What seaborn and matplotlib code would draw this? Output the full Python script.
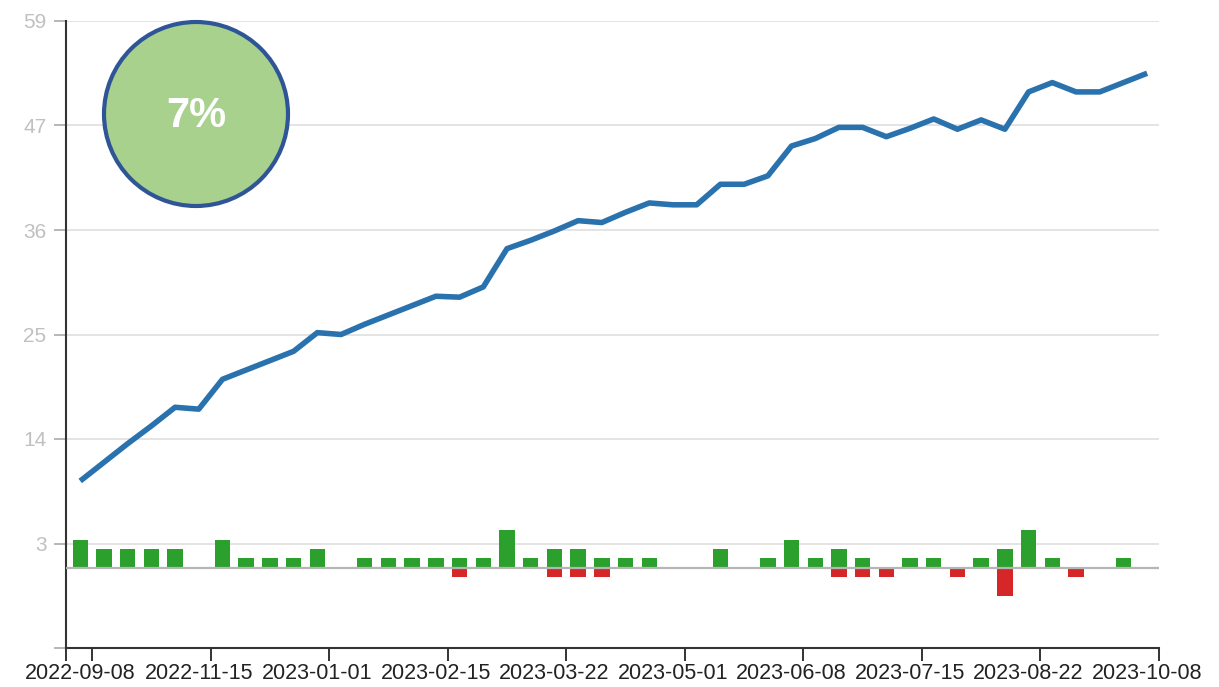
import matplotlib
matplotlib.use("Agg")
import numpy as np
import pandas as pd
import seaborn as sns
import matplotlib.pyplot as plt
from matplotlib.patches import Ellipse

# ---------------- data ----------------
week_no = list(range(46))
gains = [3, 2, 2, 2, 2, 0, 3, 1, 1, 1,
         2, 0, 1, 1, 1, 1, 1, 1, 4, 1,
         2, 2, 1, 1, 1, 0, 0, 2, 0, 1,
         3, 1, 2, 1, 0, 1, 1, 0, 1, 2,
         4, 1, 0, 0, 1, 0]
losses = [0, 0, 0, 0, 0, 0, 0, 0, 0, 0,
          0, 0, 0, 0, 0, 0, -1, 0, 0, 0,
          -1, -1, -1, 0, 0, 0, 0, 0, 0, 0,
          0, 0, -1, -1, -1, 0, 0, -1, 0, -3,
          0, 0, -1, 0, 0, 0]
totals = [9.3, 11.3, 13.3, 15.2, 17.2, 17.0, 20.2, 21.2, 22.2, 23.2,
          25.2, 25.0, 26.1, 27.1, 28.1, 29.1, 29.0, 30.1, 34.2, 35.1,
          36.1, 37.2, 37.0, 38.1, 39.1, 38.9, 38.9, 41.1, 41.1, 42.0,
          45.2, 46.0, 47.2, 47.2, 46.2, 47.1, 48.1, 47.0, 48.0, 47.0,
          51.0, 52.0, 51.0, 51.0, 52.0, 53.0]
date_labels = ["2022-09-08", "2022-11-15", "2023-01-01", "2023-02-15",
               "2023-03-22", "2023-05-01", "2023-06-08", "2023-07-15",
               "2023-08-22", "2023-10-08"]
y_tick_labels = ["", "3", "14", "25", "36", "47", "59"]
badge_text = "7%"

df = pd.DataFrame({"week": week_no, "gain": gains, "loss": losses, "total": totals})

# ---------------- style ----------------
sns.set_theme(style="white")
plt.rcParams["font.family"] = ["Liberation Sans", "DejaVu Sans"]

W, H = 1219, 687
fig = plt.figure(figsize=(W / 100, H / 100), dpi=100)
ax = fig.add_axes([66 / W, 1 - 648 / H, (1159 - 66) / W, (648 - 21) / H])

GREEN = "#2ca02c"
RED = "#d62728"
BLUE = "#2a72ad"

sns.barplot(data=df, x="week", y="gain", native_scale=True, width=0.65,
            color=GREEN, saturation=1, linewidth=0, errorbar=None, ax=ax, zorder=2)
sns.barplot(data=df, x="week", y="loss", native_scale=True, width=0.65,
            color=RED, saturation=1, linewidth=0, errorbar=None, ax=ax, zorder=2)
ax.axhline(0, color="#b5b5b5", lw=1.6, zorder=3)
sns.lineplot(data=df, x="week", y="total", color=BLUE, linewidth=4.0, ax=ax,
             zorder=4, solid_capstyle="butt", solid_joinstyle="round")

# ---------------- axes ----------------
ymin, ymax = -8.6, 58.6
ax.set_ylim(ymin, ymax)
xmin, xmax = -0.6, 45.5
ax.set_xlim(xmin, xmax)

yt = np.linspace(ymin, ymax, len(y_tick_labels))
ax.set_yticks(yt)
ax.set_yticklabels(y_tick_labels)
ax.yaxis.grid(True, color="#dddddd", lw=1.1, zorder=0)
ax.set_axisbelow(True)

label_pos = [5 * k for k in range(len(date_labels))]
major_x = [xmin] + [p + 0.5 for p in label_pos]
ax.set_xticks(major_x)
ax.set_xticklabels([""] * len(major_x))
ax.set_xticks(label_pos, minor=True)
ax.set_xticklabels(date_labels, minor=True, fontsize=15.5, color="#222222")
ax.tick_params(axis="x", which="major", length=9, width=1.4, color="#333333",
               bottom=True, direction="out")
ax.tick_params(axis="x", which="minor", length=0, pad=11, bottom=True)
ax.tick_params(axis="y", which="major", length=9, width=1.2, color="#aaaaaa",
               left=True, direction="out", labelsize=15, labelcolor="#c0c0c0", pad=5)

for s in ["top", "right"]:
    ax.spines[s].set_visible(False)
for s in ["left", "bottom"]:
    ax.spines[s].set_color("#333333")
    ax.spines[s].set_linewidth(1.5)
ax.set_xlabel("")
ax.set_ylabel("")

# ---------------- badge ----------------
cx, cy, r = 196 / W, 1 - 114 / H, 92
badge = Ellipse((cx, cy), 2 * r / W, 2 * r / H, transform=fig.transFigure,
                facecolor="#a9d18e", edgecolor="#2f5597", linewidth=3.0, zorder=10)
fig.add_artist(badge)
fig.text(cx, 1 - 116 / H, badge_text, ha="center", va="center", color="white",
         fontsize=30, fontweight="bold", zorder=11)

fig.savefig("out.png", dpi=100)
